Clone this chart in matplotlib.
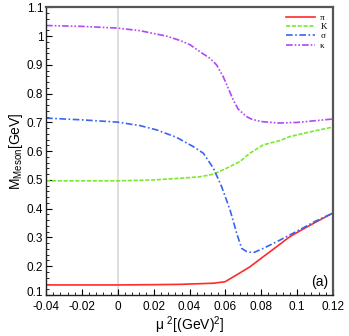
import numpy as np
import matplotlib.pyplot as plt
import matplotlib.transforms as mtransforms
from matplotlib.ticker import MultipleLocator

plt.rcParams['font.family'] = ['Liberation Sans', 'DejaVu Sans']
plt.rcParams['mathtext.fontset'] = 'custom'
plt.rcParams['mathtext.rm'] = 'Liberation Sans'
plt.rcParams['mathtext.it'] = 'Liberation Sans:italic'

# ---- dados ----
mu_pi = [-0.04, 0.0, 0.02, 0.0347, 0.0533, 0.0598, 0.0663, 0.0737, 0.0811, 0.0886,
         0.096, 0.103, 0.11, 0.12]
m_pi = [0.135, 0.135, 0.136, 0.137, 0.141, 0.146, 0.170, 0.198, 0.233, 0.268,
        0.303, 0.328, 0.352, 0.385]

mu_k = [-0.04, 0.0, 0.02, 0.0347, 0.0458, 0.0533, 0.0607, 0.0681, 0.0737, 0.0811,
        0.0904, 0.096, 0.103, 0.11, 0.12]
m_k = [0.497, 0.497, 0.5, 0.506, 0.511, 0.520, 0.541, 0.564, 0.593, 0.622,
       0.637, 0.651, 0.661, 0.671, 0.684]

mu_sigma = [-0.04, -0.02, 0.0, 0.0124, 0.0217, 0.0328, 0.0421, 0.0477, 0.0533, 0.0579,
            0.0626, 0.0663, 0.0691, 0.0719, 0.0756, 0.0811, 0.0886, 0.096, 0.103,
            0.11, 0.12]
m_sigma = [0.715, 0.709, 0.701, 0.689, 0.674, 0.648, 0.616, 0.593, 0.541, 0.477,
           0.396, 0.315, 0.262, 0.251, 0.247, 0.262, 0.285, 0.309, 0.332,
           0.356, 0.385]

mu_kappa = [-0.04, -0.02, 0.0, 0.0124, 0.0273, 0.0347, 0.0403, 0.0458, 0.0514, 0.0551,
            0.0588, 0.0616, 0.0644, 0.0672, 0.0719, 0.0747, 0.08, 0.09, 0.1, 0.11, 0.12]
m_kappa = [1.037, 1.034, 1.028, 1.019, 1.0, 0.985, 0.970, 0.946, 0.923, 0.900,
           0.859, 0.819, 0.778, 0.746, 0.720, 0.711, 0.703, 0.698, 0.700, 0.706, 0.712]

fig = plt.figure(figsize=(3.49, 3.36), dpi=100)
ax = fig.add_axes([0.132, 0.122, 0.822, 0.856])

ax.axvline(0, color='#d8d8d8', lw=1.2, zorder=0)

ax.plot(mu_pi, m_pi, color='#ff2a2a', lw=1.2, ls='-', label='π')
ax.plot(mu_k, m_k, color='#7ee82a', lw=1.2, ls=(0, (2.5, 1)), label='K')
ax.plot(mu_sigma, m_sigma, color='#3a64f0', lw=1.2, ls=(0, (4, 1.5, 1, 1.5)), label='σ')
ax.plot(mu_kappa, m_kappa, color='#b048f8', lw=1.2, ls=(0, (4, 1.2, 1, 1.2, 1, 1.2)), label='κ')

ax.set_xlim(-0.04, 0.12)
ax.set_ylim(0.1, 1.1)
ax.xaxis.set_minor_locator(MultipleLocator(0.004))
ax.yaxis.set_minor_locator(MultipleLocator(0.02))
ax.set_xticks(np.arange(-0.04, 0.121, 0.02))
ax.set_xticklabels(['-0.04', '-0.02', '0', '0.02', '0.04', '0.06', '0.08', '0.1', '0.12'])
ax.set_yticks(np.arange(0.1, 1.101, 0.1))
ax.set_yticklabels(['0.1', '0.2', '0.3', '0.4', '0.5', '0.6', '0.7', '0.8', '0.9', '1', '1.1'])
ax.tick_params(which='both', direction='in', top=False, right=False, labelsize=8.5)
ax.tick_params(axis='x', pad=4)
ax.tick_params(axis='y', pad=2)
ax.tick_params(which='major', length=4, width=0.8)
ax.tick_params(which='minor', length=2, width=0.6)

# "0.1" um pouco acima para não encostar no "-0.04"
lab01 = ax.get_yticklabels()[0]
lab01.set_transform(lab01.get_transform() +
                    mtransforms.ScaledTranslation(0, 2.5 / 72, fig.dpi_scale_trans))

for s in ['left', 'bottom']:
    ax.spines[s].set_linewidth(1.0)
    ax.spines[s].set_color('#222222')
for s in ['top', 'right']:
    ax.spines[s].set_linewidth(1.6)
    ax.spines[s].set_color('#555555')

ax.set_ylabel(r'M$_{\mathrm{Meson}}$[GeV]', fontsize=10, labelpad=1)
ax.set_xlabel(r'μ $^2$[(GeV)$^2$]', fontsize=10, labelpad=1)

leg = ax.legend(loc='upper right', frameon=False, handlelength=3.2,
                handletextpad=0.6, labelspacing=0.1, borderaxespad=0.3,
                prop={'family': 'Liberation Serif', 'size': 6.5})
ax.text(0.985, 0.02, '(a)', transform=ax.transAxes, ha='right', va='bottom', fontsize=10)

plt.savefig('out.png', dpi=100)
